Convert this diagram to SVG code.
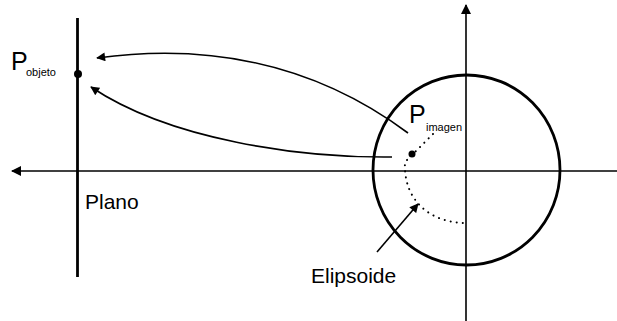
<svg xmlns="http://www.w3.org/2000/svg" width="617" height="321" viewBox="0 0 617 321">
<style>
.ln{fill:none;stroke:#000;stroke-width:1.6}
.thick{fill:none;stroke:#000;stroke-width:2.8}
.dot{fill:none;stroke:#000;stroke-width:2;stroke-dasharray:0.1 6;stroke-linecap:round}
text{font-family:"Liberation Sans",Arial,sans-serif;fill:#000}
.lbl{font-size:21px}
.big{font-size:25px}
.sub{font-size:11px}
</style>
<defs>
<marker id="ah" viewBox="0 0 10 10" refX="9" refY="5" markerWidth="10" markerHeight="9" markerUnits="userSpaceOnUse" orient="auto"><path d="M0,0 L10,5 L0,10 Z" fill="#000"/></marker>
<marker id="ahb" viewBox="0 0 10 10" refX="9" refY="5" markerWidth="12" markerHeight="10" markerUnits="userSpaceOnUse" orient="auto"><path d="M0,0 L10,5 L0,10 Z" fill="#000"/></marker>
</defs>
<g id="axes">
<line class="ln" x1="617" y1="171" x2="12" y2="171" marker-end="url(#ahb)"/>
<line class="ln" x1="466" y1="321" x2="466" y2="5" marker-end="url(#ahb)"/>
</g>
<g id="plano">
<line class="thick" x1="77.5" y1="18" x2="77.5" y2="277"/>
<circle cx="78" cy="74" r="4" fill="#000"/>
<text class="lbl" x="85" y="209">Plano</text>
</g>
<g id="p-objeto">
<text class="big" x="11" y="70">P</text>
<text class="sub" x="26" y="76">objeto</text>
</g>
<g id="elipsoide-circle">
<ellipse class="thick" cx="466.5" cy="170" rx="93.5" ry="95"/>
</g>
<g id="p-imagen">
<circle cx="412" cy="154" r="3.5" fill="#000"/>
<text class="big" x="409" y="123">P</text>
<text class="sub" x="426" y="131">imagen</text>
</g>
<g id="elipsoide-label">
<text class="lbl" x="311" y="283">Elipsoide</text>
</g>
<g id="connectors">
<path class="ln" d="M408,133 C330,75 230,40 97,58" marker-end="url(#ah)"/>
<path class="ln" d="M392,157 C300,158 170,140 91,87" marker-end="url(#ah)"/>
<path class="dot" d="M433,134 L405,162 C403,200 430,223 466,223"/>
<line class="ln" x1="377" y1="252" x2="418" y2="204" marker-end="url(#ah)"/>
</g>
</svg>
